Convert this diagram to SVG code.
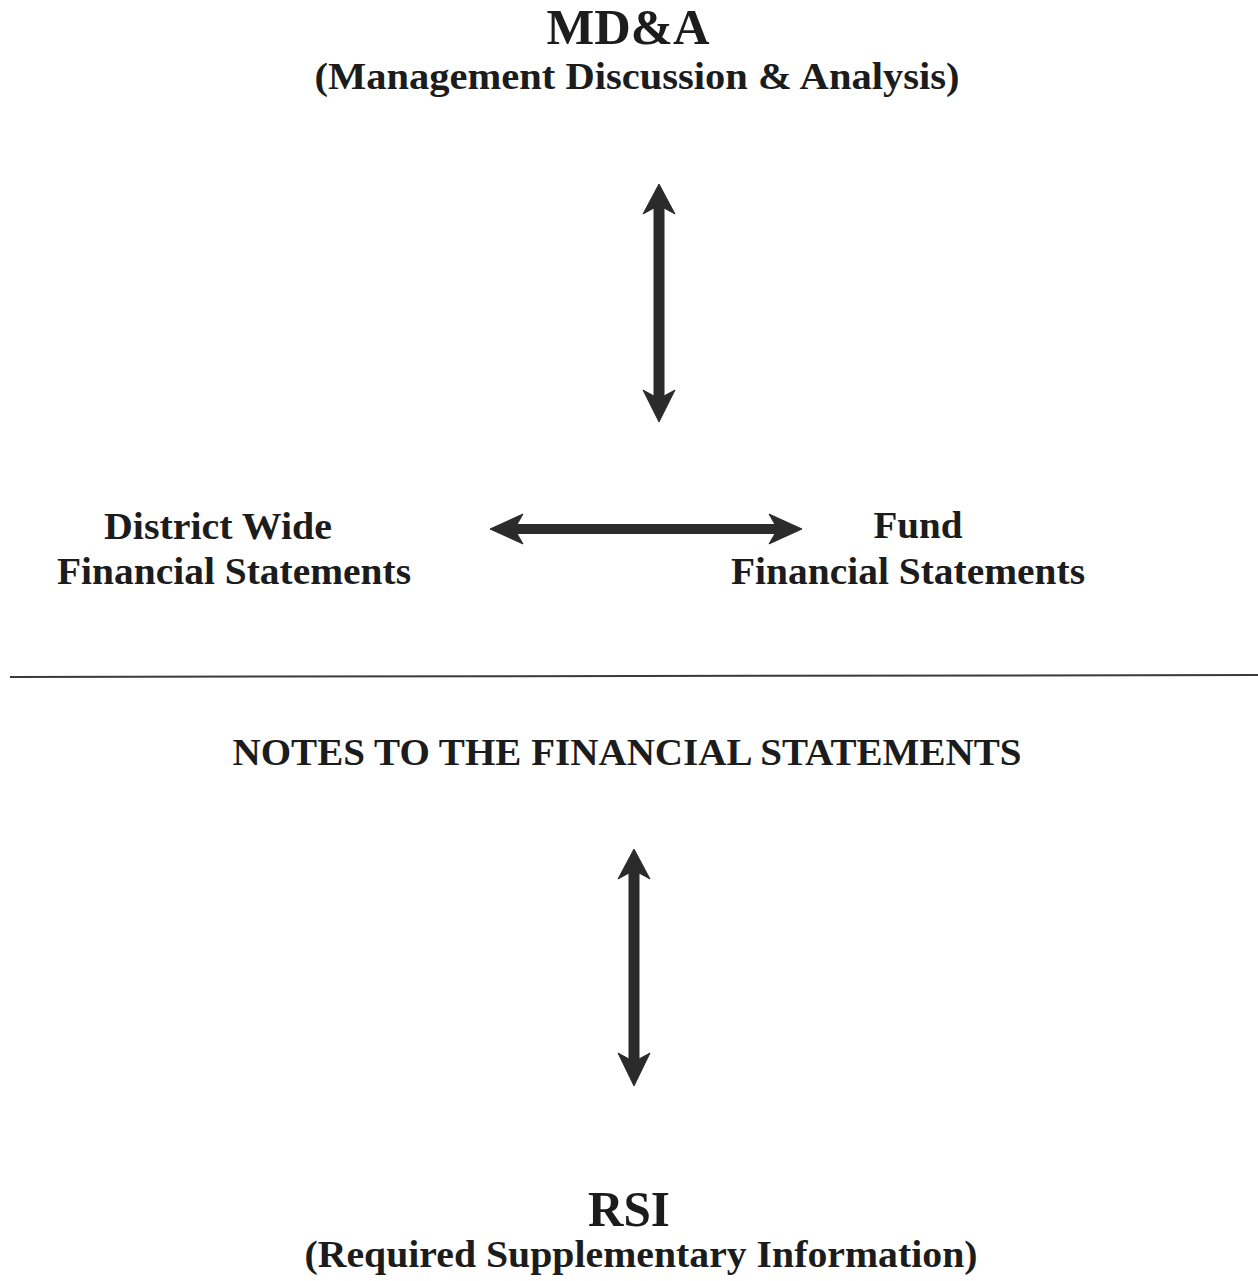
<svg xmlns="http://www.w3.org/2000/svg" width="1258" height="1281" viewBox="0 0 1258 1281">
  <style>
    .t { font-family: "Liberation Serif", "DejaVu Serif", serif; font-weight: bold; fill: #1c1c1c; text-anchor: middle; }
    .big { font-size: 50px; }
    .sub { font-size: 38px; }
    .lbl { font-size: 37px; }
    .arrow { fill: #2b2b2b; stroke: #2b2b2b; stroke-width: 1; stroke-linejoin: miter; }
    .rule { stroke: #3a3a3a; stroke-width: 2; fill: none; }
  </style>
  <rect width="1258" height="1281" fill="#ffffff"/>

  <g id="mda">
    <text class="t big" x="628" y="44" textLength="163" lengthAdjust="spacingAndGlyphs">MD&amp;A</text>
    <text class="t sub" x="637" y="89" textLength="645" lengthAdjust="spacingAndGlyphs">(Management Discussion &amp; Analysis)</text>
  </g>

  <g id="district-wide">
    <text class="t lbl" x="218" y="539" textLength="228" lengthAdjust="spacingAndGlyphs">District Wide</text>
    <text class="t lbl" x="234" y="584" textLength="354" lengthAdjust="spacingAndGlyphs">Financial Statements</text>
  </g>

  <g id="fund">
    <text class="t lbl" x="918" y="538" textLength="89" lengthAdjust="spacingAndGlyphs">Fund</text>
    <text class="t lbl" x="908" y="584" textLength="354" lengthAdjust="spacingAndGlyphs">Financial Statements</text>
  </g>

  <g id="notes">
    <text class="t lbl" x="627" y="765" textLength="789" lengthAdjust="spacingAndGlyphs">NOTES TO THE FINANCIAL STATEMENTS</text>
  </g>

  <g id="rsi">
    <text class="t big" x="629" y="1226" textLength="82" lengthAdjust="spacingAndGlyphs">RSI</text>
    <text class="t sub" x="641" y="1267" textLength="673" lengthAdjust="spacingAndGlyphs">(Required Supplementary Information)</text>
  </g>

  <g id="connectors">
    <!-- MD&A to statements -->
    <path class="arrow" d="M659,184 L675,214 L664,208 L664,396 L675,390 L659,422 L643,390 L654,396 L654,208 L643,214 Z"/>
    <!-- district wide to fund -->
    <path class="arrow" d="M490,529 L523,514 L517,524.5 L775,524.5 L769,514 L802,529 L769,544 L775,533.5 L517,533.5 L523,544 Z"/>
    <!-- notes to RSI -->
    <path class="arrow" d="M634,849 L650,879 L639,873 L639,1059 L650,1053 L634,1086 L618,1053 L629,1059 L629,873 L618,879 Z"/>
    <!-- section divider -->
    <line class="rule" x1="10" y1="677" x2="1258" y2="675"/>
  </g>
</svg>
